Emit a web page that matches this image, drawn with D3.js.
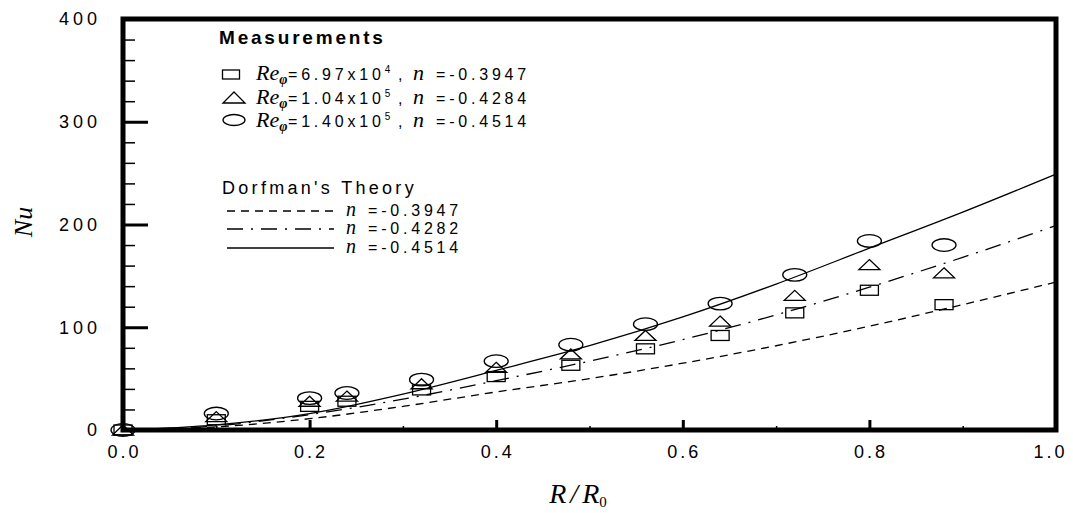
<!DOCTYPE html>
<html><head><meta charset="utf-8">
<script src="https://cdn.jsdelivr.net/npm/d3@7"></script>
<style>body{margin:0;background:#fff} svg{display:block}</style>
</head><body><svg id="c" width="1073" height="513"></svg>
<script>
// ---- data ----
const xMeas = [0, 0.1, 0.2, 0.24, 0.32, 0.4, 0.48, 0.56, 0.64, 0.72, 0.8, 0.88];
const nuRe697e4 = [0, 10, 23, 28, 39, 52, 63, 79, 92, 114, 136, 122];   // squares
const nuRe104e5 = [0, 13, 28, 33, 45, 61, 74, 92, 106, 131, 161, 153];  // triangles
const nuRe140e5 = [0, 16, 31, 36, 49, 67, 83, 103, 123, 151, 184, 180]; // ellipses

const xTheory = [0, 0.1, 0.2, 0.3, 0.4, 0.5, 0.6, 0.7, 0.8, 0.9, 1.0];
const nuTheory3947 = [0, 3, 11, 23, 37, 50, 65, 82, 101, 122, 144];
const nuTheory4282 = [0, 4, 15, 30, 48, 67, 88, 112, 139, 168, 199];
const nuTheory4514 = [0, 5, 16, 35, 58, 82, 110, 142, 177, 212, 249];

const xTicks = [0, 0.2, 0.4, 0.6, 0.8, 1.0];
const xMinorTicks = [0.1, 0.3, 0.5, 0.7, 0.9];
const yTicks = [0, 100, 200, 300, 400];
const yMinorTicks = [20,40,60,80,120,140,160,180,220,240,260,280,320,340,360,380];

const measLabels = [
  {re: "6.97x10", exp: "4", n: "-0.3947"},
  {re: "1.04x10", exp: "5", n: "-0.4284"},
  {re: "1.40x10", exp: "5", n: "-0.4514"}
];
const theoryLabels = ["-0.3947", "-0.4282", "-0.4514"];

// ---- drawing ----
const svg = d3.select('#c');
svg.append('rect').attr('width',1073).attr('height',513).attr('fill','#fff');
const x = d3.scaleLinear().domain([0,1]).range([123,1056]);
const y = d3.scaleLinear().domain([0,400]).range([430,19]);

const sans = "'Liberation Sans', Arial, sans-serif";
const serif = "'Liberation Serif', 'Times New Roman', serif";

// axes
const gy = svg.append('g').attr('transform','translate(123,0)')
  .call(d3.axisLeft(y).tickValues(yTicks).tickSizeInner(-25).tickSizeOuter(0).tickPadding(22).tickFormat(d3.format('d')));
gy.select('.domain').remove();
gy.selectAll('line').attr('stroke','#000').attr('stroke-width',3);
gy.selectAll('text').attr('font-family',sans).attr('font-size',18).style('letter-spacing','4px').attr('fill','#000');

const gym = svg.append('g').attr('transform','translate(123,0)')
  .call(d3.axisLeft(y).tickValues(yMinorTicks).tickSizeInner(-12).tickSizeOuter(0).tickFormat(''));
gym.select('.domain').remove();
gym.selectAll('line').attr('stroke','#000').attr('stroke-width',1.5);

const gx = svg.append('g').attr('transform','translate(0,430)')
  .call(d3.axisBottom(x).tickValues(xTicks).tickSizeInner(-10).tickSizeOuter(0).tickPadding(15).tickFormat(d3.format('.1f')));
gx.select('.domain').remove();
gx.selectAll('line').attr('stroke','#000').attr('stroke-width',3);
gx.selectAll('text').attr('font-family',sans).attr('font-size',18).style('letter-spacing','3px').attr('fill','#000')
  .attr('dx', d => d === 1 ? '-6px' : '1px');

const gxm = svg.append('g').attr('transform','translate(0,430)')
  .call(d3.axisBottom(x).tickValues(xMinorTicks).tickSizeInner(-4).tickSizeOuter(0).tickFormat(''));
gxm.select('.domain').remove();
gxm.selectAll('line').attr('stroke','#000').attr('stroke-width',1.5);

// frame
svg.append('rect').attr('x',x(0)).attr('y',y(400)).attr('width',x(1)-x(0)).attr('height',y(0)-y(400))
  .attr('fill','none').attr('stroke','#000').attr('stroke-width',5);

// theory curves
const line = d3.line().x(d=>x(d[0])).y(d=>y(d[1])).curve(d3.curveMonotoneX);
const curves = [
  {v: nuTheory3947, dash: '8,6'},
  {v: nuTheory4282, dash: '16,8,2,8'},
  {v: nuTheory4514, dash: null}
];
curves.forEach(c => {
  svg.append('path').datum(xTheory.map((xv,i)=>[xv,c.v[i]]))
    .attr('d',line).attr('fill','none').attr('stroke','#000').attr('stroke-width',1.3)
    .attr('stroke-dasharray',c.dash);
});

// markers
const mk = {stroke:'#000', sw:1.3};
function rectM(g,cx,cy,w,h){ g.append('rect').attr('x',cx-w/2).attr('y',cy-h/2).attr('width',w).attr('height',h)
  .attr('fill','none').attr('stroke',mk.stroke).attr('stroke-width',mk.sw); }
function triM(g,cx,cy,w,h){ g.append('path').attr('d',`M${cx},${cy-h/2}L${cx+w/2},${cy+h/2}L${cx-w/2},${cy+h/2}Z`)
  .attr('fill','none').attr('stroke',mk.stroke).attr('stroke-width',mk.sw); }
function ellM(g,cx,cy,rx,ry){ g.append('ellipse').attr('cx',cx).attr('cy',cy).attr('rx',rx).attr('ry',ry)
  .attr('fill','none').attr('stroke',mk.stroke).attr('stroke-width',mk.sw); }

const gm = svg.append('g');
xMeas.forEach((xv,i)=>{ rectM(gm, x(xv), y(nuRe697e4[i]), 18, 10); });
xMeas.forEach((xv,i)=>{ triM(gm, x(xv), y(nuRe104e5[i]), 21, 10); });
xMeas.forEach((xv,i)=>{ ellM(gm, x(xv), y(nuRe140e5[i]), 12, 6.3); });

// legend
const lg = svg.append('g');
lg.append('text').attr('x',219).attr('y',44).attr('font-family',sans).attr('font-weight','bold')
  .attr('font-size',19).style('letter-spacing','2.8px').text('Measurements');

const rowY = [80, 104, 127];
const symY = [74.5, 97.5, 120];
rectM(lg, 231, symY[0], 17, 9);
triM(lg, 234, symY[1], 22, 11);
ellM(lg, 234, symY[2], 11, 5.5);

measLabels.forEach((m,i)=>{
  const t = lg.append('text').attr('y',rowY[i]).attr('font-family',sans).attr('font-size',16).attr('fill','#000');
  t.append('tspan').attr('x',256).attr('font-family',serif).attr('font-style','italic').attr('font-size',22).text('Re');
  t.append('tspan').attr('dy',4).attr('font-family',serif).attr('font-style','italic').attr('font-weight','bold').attr('font-size',14).text('φ');
  t.append('tspan').attr('x',288).attr('dy',-4).style('letter-spacing','3.8px').text('=' + m.re);
  t.append('tspan').attr('dy',-7).attr('font-size',10).text(m.exp);
  t.append('tspan').attr('dy',7).attr('x',398).text(',');
  t.append('tspan').attr('x',413).attr('font-family',serif).attr('font-style','italic').attr('font-size',22).text('n');
  t.append('tspan').attr('x',436).style('letter-spacing','3.8px').text('=' + m.n);
});

lg.append('text').attr('x',222).attr('y',194).attr('font-family',sans).attr('font-size',18)
  .style('letter-spacing','3.3px').text("Dorfman's Theory");

const legLineY = [211, 229, 248];
curves.forEach((c,i)=>{
  lg.append('line').attr('x1',227).attr('x2',334).attr('y1',legLineY[i]).attr('y2',legLineY[i])
    .attr('stroke','#000').attr('stroke-width',1.3).attr('stroke-dasharray',c.dash);
  const t = lg.append('text').attr('y',legLineY[i]+5).attr('font-family',sans).attr('font-size',16);
  t.append('tspan').attr('x',346).attr('font-family',serif).attr('font-style','italic').attr('font-size',20).text('n');
  t.append('tspan').attr('x',368).style('letter-spacing','3.8px').text('=' + theoryLabels[i]);
});

// axis titles
svg.append('text').attr('transform','translate(32,222) rotate(-90)').attr('text-anchor','middle')
  .attr('font-family',serif).attr('font-style','italic').attr('font-size',26).text('Nu');
const xt = svg.append('text').attr('x',578).attr('y',503).attr('text-anchor','middle')
  .attr('font-family',serif).attr('font-style','italic').attr('font-size',28);
xt.append('tspan').text('R');
xt.append('tspan').attr('dx',4).text('/');
xt.append('tspan').attr('dx',4).text('R');
xt.append('tspan').attr('dy',4).attr('font-size',15).attr('font-style','normal').text('0');
</script></body></html>
